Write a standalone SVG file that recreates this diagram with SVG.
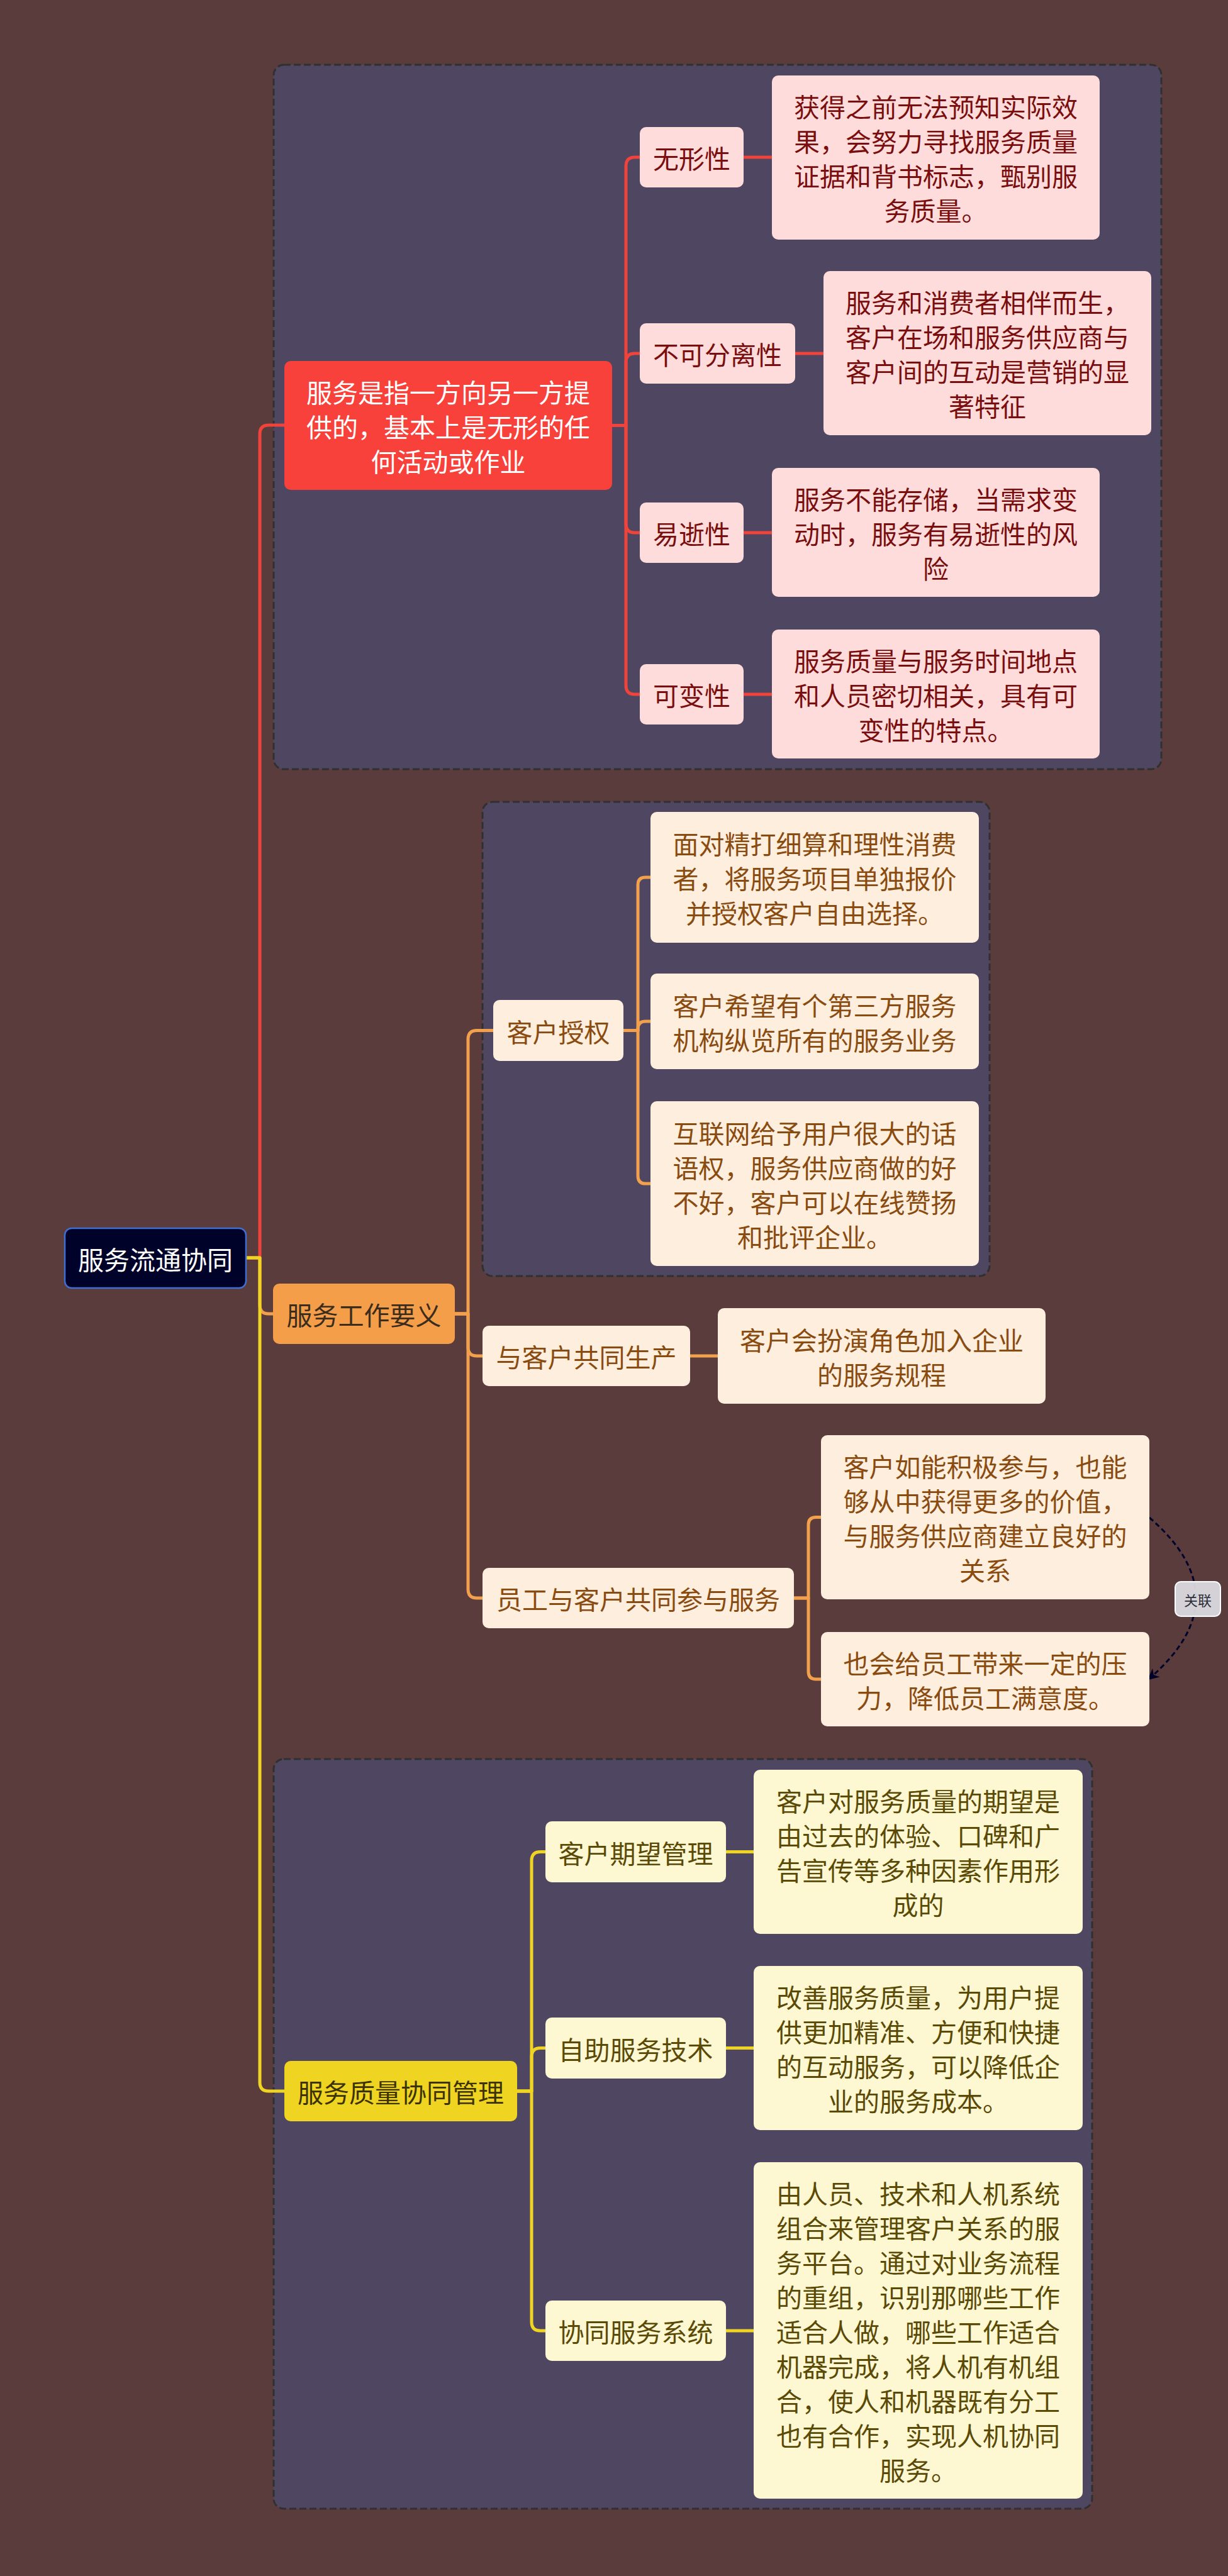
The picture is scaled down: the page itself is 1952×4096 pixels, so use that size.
<svg xmlns="http://www.w3.org/2000/svg" width="1952" height="4096" viewBox="0 0 1952 4096">
<style>
text{font-family:"Noto Sans CJK SC","Noto Sans",sans-serif;font-size:41px;text-anchor:middle;dominant-baseline:central}
.cont{fill:#4f4761;stroke:#303030;stroke-width:3;stroke-dasharray:11 5}
.ln{fill:none;stroke-width:5;stroke-linecap:round;stroke-linejoin:round}
.lr{stroke:#f0433b}.lo{stroke:#f3a04c}.ly{stroke:#f0d422}
.rs{fill:#fedcdb}.rt{fill:#7a0e0e}
.os{fill:#fdeedd}.ot{fill:#8a4b10}
.ys{fill:#fdf7d2}.yt{fill:#5a4a06}
</style>
<defs>
<marker id="arr" viewBox="0 0 10 10" refX="8" refY="5" markerWidth="6" markerHeight="6" orient="auto" markerUnits="strokeWidth">
<path d="M0,0 L10,5 L0,10 L3,5 z" fill="#000229"/>
</marker>
</defs>
<rect x="0" y="0" width="1952" height="4096" fill="#5b3c3c"/>

<g id="containers">
<rect class="cont" x="435" y="103" width="1411" height="1120" rx="16"/>
<rect class="cont" x="767" y="1275" width="806" height="754" rx="16"/>
<rect class="cont" x="435" y="2797" width="1301" height="1192" rx="16"/>
</g>

<g id="connectors">
<path class="ln lr" d="M391 2000 H413 V690 Q413 676 427 676 H452"/>
<path class="ln lo" d="M391 2000 H413 V2075 Q413 2089 427 2089 H434"/>
<path class="ln ly" d="M391 2000 H413 V3311 Q413 3325 427 3325 H452"/>

<path class="ln lr" d="M973 676.5 H995 V264 Q995 250 1009 250 H1017"/>
<path class="ln lr" d="M973 676.5 H995 V576 Q995 562 1009 562 H1017"/>
<path class="ln lr" d="M973 676.5 H995 V833 Q995 847 1009 847 H1017"/>
<path class="ln lr" d="M973 676.5 H995 V1090 Q995 1104 1009 1104 H1017"/>
<path class="ln lr" d="M1182 250 H1227"/>
<path class="ln lr" d="M1264 562 H1309"/>
<path class="ln lr" d="M1182 847 H1227"/>
<path class="ln lr" d="M1182 1104 H1227"/>

<path class="ln lo" d="M723 2089 H744 V1652.5 Q744 1638.5 758 1638.5 H784"/>
<path class="ln lo" d="M723 2089 H744 V2142 Q744 2156 758 2156 H767"/>
<path class="ln lo" d="M723 2089 H744 V2527 Q744 2541 758 2541 H767"/>
<path class="ln lo" d="M991 1638.5 H1014 V1407 Q1014 1395 1026 1395 H1034"/>
<path class="ln lo" d="M991 1638.5 H1014 V1636 Q1014 1624 1026 1624 H1034"/>
<path class="ln lo" d="M991 1638.5 H1014 V1870 Q1014 1882 1026 1882 H1034"/>
<path class="ln lo" d="M1097 2156 H1141"/>
<path class="ln lo" d="M1262 2541 H1285 V2424.5 Q1285 2412.5 1297 2412.5 H1305"/>
<path class="ln lo" d="M1262 2541 H1285 V2658 Q1285 2670 1297 2670 H1305"/>

<path class="ln ly" d="M822 3325 H845 V2958.5 Q845 2944.5 859 2944.5 H867"/>
<path class="ln ly" d="M822 3325 H845 V3270.5 Q845 3256.5 859 3256.5 H867"/>
<path class="ln ly" d="M822 3325 H845 V3692 Q845 3706 859 3706 H867"/>
<path class="ln ly" d="M1154 2944.5 H1198"/>
<path class="ln ly" d="M1154 3256.5 H1198"/>
<path class="ln ly" d="M1154 3706 H1198"/>

<path d="M1827 2413 Q1975 2541 1827 2669" fill="none" stroke="#000229" stroke-width="3" stroke-dasharray="8 5" marker-end="url(#arr)"/>
</g>

<g id="root">
<rect x="103" y="1953" width="288" height="95" rx="11" fill="#000229" stroke="#3f6fd0" stroke-width="2.5"/>
<text x="247" y="2000.5" fill="#ffffff">服务流通协同</text>
</g>

<g id="n-red">
<rect x="452" y="574" width="521" height="205" rx="10" fill="#f7413a"/>
<text fill="#ffffff"><tspan x="712.5" y="621.5">服务是指一方向另一方提</tspan><tspan x="712.5" y="676.5">供的，基本上是无形的任</tspan><tspan x="712.5" y="731.5">何活动或作业</tspan></text>
</g>
<g id="n-wuxing">
<rect class="rs" x="1017" y="202" width="165" height="96" rx="10"/>
<text class="rt" x="1099.5" y="250">无形性</text>
</g>
<g id="n-wuxing-d">
<rect class="rs" x="1227" y="120" width="521" height="261" rx="10"/>
<text class="rt"><tspan x="1487.5" y="168">获得之前无法预知实际效</tspan><tspan x="1487.5" y="223">果，会努力寻找服务质量</tspan><tspan x="1487.5" y="278">证据和背书标志，甄别服</tspan><tspan x="1487.5" y="333">务质量。</tspan></text>
</g>
<g id="n-bukefen">
<rect class="rs" x="1017" y="514" width="247" height="96" rx="10"/>
<text class="rt" x="1140.5" y="562">不可分离性</text>
</g>
<g id="n-bukefen-d">
<rect class="rs" x="1309" y="431" width="521" height="261" rx="10"/>
<text class="rt"><tspan x="1569.5" y="479">服务和消费者相伴而生，</tspan><tspan x="1569.5" y="534">客户在场和服务供应商与</tspan><tspan x="1569.5" y="589">客户间的互动是营销的显</tspan><tspan x="1569.5" y="644">著特征</tspan></text>
</g>
<g id="n-yishi">
<rect class="rs" x="1017" y="799" width="165" height="96" rx="10"/>
<text class="rt" x="1099.5" y="847">易逝性</text>
</g>
<g id="n-yishi-d">
<rect class="rs" x="1227" y="744" width="521" height="205" rx="10"/>
<text class="rt"><tspan x="1487.5" y="791.5">服务不能存储，当需求变</tspan><tspan x="1487.5" y="846.5">动时，服务有易逝性的风</tspan><tspan x="1487.5" y="901.5">险</tspan></text>
</g>
<g id="n-kebian">
<rect class="rs" x="1017" y="1056" width="165" height="96" rx="10"/>
<text class="rt" x="1099.5" y="1104">可变性</text>
</g>
<g id="n-kebian-d">
<rect class="rs" x="1227" y="1001" width="521" height="205" rx="10"/>
<text class="rt"><tspan x="1487.5" y="1048.5">服务质量与服务时间地点</tspan><tspan x="1487.5" y="1103.5">和人员密切相关，具有可</tspan><tspan x="1487.5" y="1158.5">变性的特点。</tspan></text>
</g>

<g id="n-orange">
<rect x="434" y="2041" width="289" height="96" rx="10" fill="#f59e4a"/>
<text x="578.5" y="2089" fill="#3b2d1e">服务工作要义</text>
</g>
<g id="n-shouquan">
<rect class="os" x="784" y="1590" width="207" height="97" rx="10"/>
<text class="ot" x="887.5" y="1638.5">客户授权</text>
</g>
<g id="n-shouquan-1">
<rect class="os" x="1034" y="1291" width="522" height="208" rx="10"/>
<text class="ot"><tspan x="1295" y="1340">面对精打细算和理性消费</tspan><tspan x="1295" y="1395">者，将服务项目单独报价</tspan><tspan x="1295" y="1450">并授权客户自由选择。</tspan></text>
</g>
<g id="n-shouquan-2">
<rect class="os" x="1034" y="1548" width="522" height="152" rx="10"/>
<text class="ot"><tspan x="1295" y="1596.5">客户希望有个第三方服务</tspan><tspan x="1295" y="1651.5">机构纵览所有的服务业务</tspan></text>
</g>
<g id="n-shouquan-3">
<rect class="os" x="1034" y="1751" width="522" height="262" rx="10"/>
<text class="ot"><tspan x="1295" y="1799.5">互联网给予用户很大的话</tspan><tspan x="1295" y="1854.5">语权，服务供应商做的好</tspan><tspan x="1295" y="1909.5">不好，客户可以在线赞扬</tspan><tspan x="1295" y="1964.5">和批评企业。</tspan></text>
</g>
<g id="n-gongtong">
<rect class="os" x="767" y="2108" width="330" height="96" rx="10"/>
<text class="ot" x="932" y="2156">与客户共同生产</text>
</g>
<g id="n-gongtong-d">
<rect class="os" x="1141" y="2080" width="521" height="152" rx="10"/>
<text class="ot"><tspan x="1401.5" y="2128.5">客户会扮演角色加入企业</tspan><tspan x="1401.5" y="2183.5">的服务规程</tspan></text>
</g>
<g id="n-canyu">
<rect class="os" x="767" y="2493" width="495" height="96" rx="10"/>
<text class="ot" x="1014.5" y="2541">员工与客户共同参与服务</text>
</g>
<g id="n-canyu-1">
<rect class="os" x="1305" y="2282" width="522" height="261" rx="10"/>
<text class="ot"><tspan x="1566" y="2330">客户如能积极参与，也能</tspan><tspan x="1566" y="2385">够从中获得更多的价值，</tspan><tspan x="1566" y="2440">与服务供应商建立良好的</tspan><tspan x="1566" y="2495">关系</tspan></text>
</g>
<g id="n-canyu-2">
<rect class="os" x="1305" y="2595" width="522" height="150" rx="10"/>
<text class="ot"><tspan x="1566" y="2642.5">也会给员工带来一定的压</tspan><tspan x="1566" y="2697.5">力，降低员工满意度。</tspan></text>
</g>
<g id="rel-label">
<rect x="1868" y="2515" width="72" height="55" rx="9" fill="#e0dfe5" fill-opacity="0.92" stroke="#ffffff" stroke-width="2"/>
<text x="1904" y="2542.5" fill="#2b2f3a" style="font-size:22px">关联</text>
</g>

<g id="n-yellow">
<rect x="452" y="3277" width="370" height="96" rx="10" fill="#f0d422"/>
<text x="637" y="3325" fill="#3c3300">服务质量协同管理</text>
</g>
<g id="n-qiwang">
<rect class="ys" x="867" y="2896" width="287" height="97" rx="10"/>
<text class="yt" x="1010.5" y="2944.5">客户期望管理</text>
</g>
<g id="n-qiwang-d">
<rect class="ys" x="1198" y="2814" width="523" height="261" rx="10"/>
<text class="yt"><tspan x="1459.5" y="2862">客户对服务质量的期望是</tspan><tspan x="1459.5" y="2917">由过去的体验、口碑和广</tspan><tspan x="1459.5" y="2972">告宣传等多种因素作用形</tspan><tspan x="1459.5" y="3027">成的</tspan></text>
</g>
<g id="n-zizhu">
<rect class="ys" x="867" y="3208" width="287" height="97" rx="10"/>
<text class="yt" x="1010.5" y="3256.5">自助服务技术</text>
</g>
<g id="n-zizhu-d">
<rect class="ys" x="1198" y="3126" width="523" height="261" rx="10"/>
<text class="yt"><tspan x="1459.5" y="3174">改善服务质量，为用户提</tspan><tspan x="1459.5" y="3229">供更加精准、方便和快捷</tspan><tspan x="1459.5" y="3284">的互动服务，可以降低企</tspan><tspan x="1459.5" y="3339">业的服务成本。</tspan></text>
</g>
<g id="n-xietong">
<rect class="ys" x="867" y="3658" width="287" height="96" rx="10"/>
<text class="yt" x="1010.5" y="3706">协同服务系统</text>
</g>
<g id="n-xietong-d">
<rect class="ys" x="1198" y="3438" width="523" height="535" rx="10"/>
<text class="yt"><tspan x="1459.5" y="3485.5">由人员、技术和人机系统</tspan><tspan x="1459.5" y="3540.5">组合来管理客户关系的服</tspan><tspan x="1459.5" y="3595.5">务平台。通过对业务流程</tspan><tspan x="1459.5" y="3650.5">的重组，识别那哪些工作</tspan><tspan x="1459.5" y="3705.5">适合人做，哪些工作适合</tspan><tspan x="1459.5" y="3760.5">机器完成，将人机有机组</tspan><tspan x="1459.5" y="3815.5">合，使人和机器既有分工</tspan><tspan x="1459.5" y="3870.5">也有合作，实现人机协同</tspan><tspan x="1459.5" y="3925.5">服务。</tspan></text>
</g>
</svg>
